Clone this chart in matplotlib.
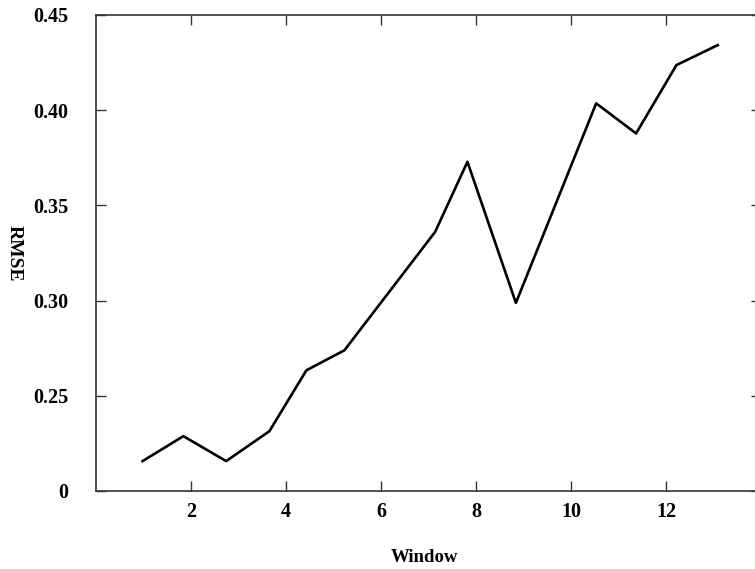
import matplotlib
matplotlib.use("Agg")
import matplotlib.pyplot as plt

# values
window = [0.98, 1.84, 2.74, 3.65, 4.43, 5.23, 7.14, 7.82, 8.84, 10.53, 11.37, 12.22, 13.09]
rmse = [0.2157, 0.2288, 0.2157, 0.2314, 0.2634, 0.2739, 0.3361, 0.3729, 0.2988,
        0.4036, 0.3878, 0.4237, 0.4342]

xticks = [2, 4, 6, 8, 10, 12]
yticks = [0.20, 0.25, 0.30, 0.35, 0.40, 0.45]
ytick_labels = ["0", "0.25", "0.30", "0.35", "0.40", "0.45"]

plt.rcParams['font.family'] = ['Liberation Serif', 'DejaVu Serif']
plt.rcParams['font.weight'] = 'bold'

fig = plt.figure(figsize=(7.55, 5.69), dpi=100)
ax = fig.add_axes([96 / 755, 1 - 491 / 569, 665 / 755, 476 / 569])

ax.plot(window, rmse, color='black', linewidth=1.9)

ax.set_xlim(0, 14)
ax.set_ylim(0.20, 0.45)
ax.set_xticks(xticks)
ax.set_yticks(yticks)
ax.set_yticklabels(ytick_labels)

ax.tick_params(direction='in', length=7, width=1, top=True, right=True,
               labelsize=14.5, color='#333333')
ax.tick_params(axis='y', pad=20)
ax.tick_params(axis='x', pad=8)
for lbl in ax.get_xticklabels() + ax.get_yticklabels():
    lbl.set_fontweight('bold')
for sp in ax.spines.values():
    sp.set_linewidth(1.2)
    sp.set_color('#333333')

fig.text(14 / 755, 1 - 253 / 569, "RMSE", rotation=-90, ha='center', va='center',
         fontsize=14, fontweight='bold')
fig.text(424 / 755, 1 - 558 / 569, "Window", ha='center', va='center',
         fontsize=13.5, fontweight='bold')

fig.savefig("out.png", dpi=100)
